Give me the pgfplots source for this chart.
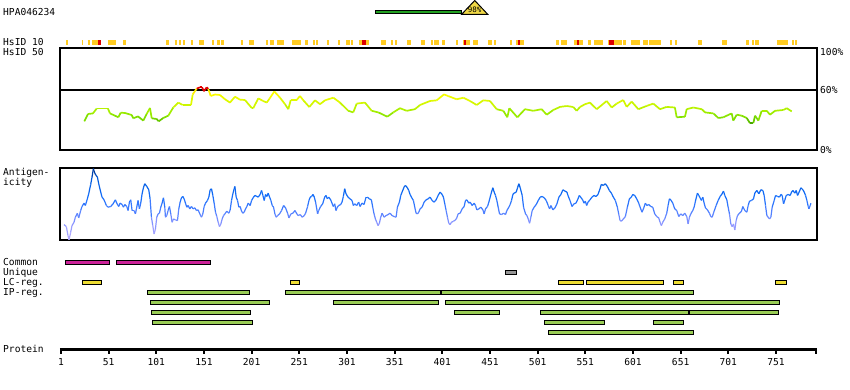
\documentclass[border=0pt]{standalone}
\usepackage{pgfplots}
\pgfplotsset{compat=1.18}
\usepackage{fontspec}
\setmainfont{DejaVu Sans Mono}
\definecolor{common}{RGB}{204,34,153}
\definecolor{lcreg}{RGB}{238,221,51}
\definecolor{ipreg}{RGB}{153,204,85}
\definecolor{uniq}{RGB}{150,150,150}
\definecolor{hsy}{RGB}{255,204,34}
\definecolor{hsr}{RGB}{221,0,0}
\definecolor{topgreen}{RGB}{34,160,34}
\definecolor{tri}{RGB}{240,216,70}
\newcommand{\rbar}[5]{\addplot[draw=black, line width=1bp, fill=#5] coordinates {(#1,#3) (#2,#3) (#2,#4) (#1,#4)} --cycle;}
\begin{document}
\begin{tikzpicture}[font=\fontsize{9.6bp}{11bp}\selectfont]
% ---------------- HsID 50 panel
\begin{axis}[at={(60bp,240bp)}, anchor=south west, scale only axis,
  width=757bp, height=102bp, xmin=0, xmax=794, ymin=0, ymax=102,
  xtick=\empty, ytick=\empty, axis line style={line width=1.2bp},
  colormap={hsid}{rgb255(0pt)=(40,130,0) rgb255(27pt)=(70,165,0) rgb255(32pt)=(125,222,0) rgb255(38pt)=(160,238,0) rgb255(44pt)=(200,245,0) rgb255(50pt)=(225,250,0) rgb255(55pt)=(250,252,0) rgb255(59.5pt)=(255,235,0) rgb255(60.5pt)=(225,0,0) rgb255(100pt)=(225,0,0)},
  point meta min=0, point meta max=100]
\addplot[black, line width=1.2bp] coordinates {(0,60) (794,60)};
\addplot[mesh, point meta=y, line width=1.7bp] coordinates {
(25.5,28.7) (29.4,36) (34.6,36.6) (38.5,41.5) (50.3,41.5) (52.4,36.6) (57.7,34.3) (61.2,32.7) (63.7,37.3) (68.2,37) (75.2,35) (76.9,31.7) (81.8,33.6) (87.4,29.4) (90.9,36) (94.4,42) (96.2,31.7) (101.4,31) (103.5,28.7) (108.3,32) (113.6,34.3) (118.8,42.5) (124.1,47.4) (128.7,45) (137.4,45) (139.2,55.6) (143.4,61.4) (146.8,62.7) (149,62.7) (151,58.8) (153.9,62.7) (155.5,61) (158.1,54) (162.6,55.5) (167.8,55) (173.1,50.7) (178.3,47.4) (183.5,53.3) (188.8,50.3) (194,50) (201.1,42) (202.7,41.8) (208,51.6) (213.2,49) (216.8,47.4) (219.5,51) (224.8,58.5) (230.8,52.3) (236,45.8) (239.5,40.8) (242,50) (248.3,50) (251.7,54)
(255.2,49.7) (261.5,43) (267.5,49.7) (272.7,45.8) (278,49.7) (286.7,52.3) (293.7,47.4) (302.4,39.2) (307.6,37.6) (311.2,46.4) (319.9,47.4) (326.9,39.2) (333.9,37.6) (343.3,33.3) (349.6,37.6) (356.6,41.8) (363.6,39.2) (372.3,40.8) (377.6,45) (388.1,49) (395.1,49.7) (402.8,55.6) (407.3,53.9) (416.1,50.7) (423,52.3) (430,49) (437.1,45) (444,49.7) (451,49) (458,40.8) (465,39.2) (469.2,32.7) (471.3,41.8) (479.7,32.7) (487.7,40.8) (496.4,39.2) (505.2,40.8) (510.5,35.3) (517.4,40)
(524.5,43.1) (531.5,44) (538.4,43) (541.9,39.2) (545.4,43) (550.7,45.8) (555.9,47.4) (562.9,40.8) (573.4,49) (578.7,42.5) (583.9,46.4) (590.8,50) (594.4,43.1) (599.6,48.4) (606.6,40.8) (615.4,44.1) (622.3,46.4) (629.3,40.8) (636.3,43.1) (645,42.5) (646.8,32.7) (655.5,33.3) (657.3,40.8) (664.3,42.5) (673.1,40.8) (676.5,37.6) (685.3,36.6) (690.5,32) (695.7,32.7) (704.5,36.6) (706.2,29.4) (709.8,35.3) (715,34.3) (720.3,32) (723.7,26.8) (727.2,26.8) (729,34.3) (732.5,29.4) (736,39.2) (741.3,39.2) (744.7,35.3) (750,39.2) (758.6,40) (762.2,41.8) (767.5,38.6)};
\end{axis}
% ---------------- Antigenicity panel
\begin{axis}[at={(60bp,150bp)}, anchor=south west, scale only axis,
  width=757bp, height=72bp, xmin=0, xmax=794, ymin=0, ymax=215,
  xtick=\empty, ytick=\empty, axis line style={line width=1.2bp},
  colormap={anti}{rgb255(0pt)=(185,175,255) rgb255(50pt)=(140,150,255) rgb255(90pt)=(70,125,255) rgb255(130pt)=(20,110,250) rgb255(180pt)=(0,90,220) rgb255(215pt)=(0,50,140)},
  point meta min=0, point meta max=215]
\addplot[mesh, point meta=y, line width=1.2bp] coordinates {
(4.2,46) (6.65,40) (8.4,13) (9.45,0) (11.2,23) (12.6,43) (14.7,53) (16.1,68) (18.2,80) (19.6,66) (21.7,88) (23.1,100) (25.2,110) (26.6,103) (28.7,123) (30.1,138) (32.2,166) (33.6,188) (35.0,213) (36.4,200) (37.8,193) (39.2,188) (40.6,168) (42.7,143) (44.1,128) (46.2,120) (48.65,103) (50.4,98) (53.2,100) (55.65,108) (58.1,120) (59.5,110) (61.6,100) (63.0,110) (65.1,106) (66.5,98) (67.9,106) (70.0,100) (71.4,88) (72.8,113) (74.2,120) (75.6,88) (77.7,88) (79.1,78) (80.5,98) (81.9,118) (83.3,93) (84.7,110) (86.1,138) (87.5,156) (88.9,168) (91.0,160) (93.1,150) (94.5,123) (95.9,68) (97.3,43) (98.7,18) (100.1,33) (101.5,68) (102.9,78) (104.3,80) (105.7,98) (107.1,110) (108.5,126) (109.9,98) (110.6,68) (112.0,73) (113.4,88) (114.8,100) (116.2,78) (117.6,53) (119.0,63) (121.1,60) (123.2,58) (124.6,93) (126.0,113) (127.4,126) (128.8,130) (130.2,123) (131.6,110) (133.0,98) (134.4,103) (136.15,93) (137.9,100) (139.65,93) (141.4,96) (143.15,88) (144.9,90) (146.65,78) (148.4,68) (149.8,78) (151.2,100) (152.6,110) (154.7,118) (156.1,128) (157.5,150) (158.9,153) (160.3,133) (161.7,110) (163.1,83) (164.5,70) (165.9,53) (167.3,40) (168.7,48) (170.1,63) (171.5,73) (172.9,78) (175.0,86) (177.1,80) (178.5,90) (179.9,118) (181.3,138) (182.7,153) (183.4,160) (184.8,128) (186.2,118) (187.6,98) (189.0,100) (190.4,86) (191.8,80) (193.2,83) (194.6,93) (196.0,100) (197.4,110) (199.5,103) (200.9,118) (203.0,128) (204.4,133) (206.5,130) (207.9,128) (210.0,136) (211.4,148) (212.8,133) (214.2,118) (215.6,136) (217.0,130) (218.4,140) (219.8,128) (221.2,118) (222.6,103) (224.0,98) (225.4,78) (226.8,68) (228.2,73) (230.3,78) (232.4,88) (234.5,103) (236.6,96) (238.7,80) (240.1,66) (242.2,78) (244.3,80) (246.4,88) (248.5,78) (249.9,73) (252.0,76) (254.1,68) (256.2,73) (257.6,80) (259.7,100) (261.1,118) (262.5,128) (263.9,130) (265.3,136) (266.7,128) (268.1,113) (270.2,78)
(271.3,88) (273.4,100) (275.5,108) (277.6,128) (279.0,133) (280.4,123) (281.8,128) (283.9,120) (285.3,110) (286.7,100) (288.1,108) (289.5,88) (290.9,98) (292.3,103) (294.4,106) (295.8,113) (297.2,130) (298.6,153) (300.0,138) (302.1,128) (304.2,123) (306.3,118) (307.7,103) (309.1,108) (311.2,103) (313.3,113) (314.7,100) (316.8,110) (318.9,106) (321.0,128) (322.4,128) (324.5,123) (326.6,120) (328.0,98) (329.4,78) (330.8,63) (332.2,53) (333.6,43) (335.0,50) (336.4,68) (337.8,80) (339.9,68) (342.0,73) (344.1,76) (346.2,80) (348.3,73) (350.4,70) (352.5,68) (353.9,98) (356.0,113) (357.4,133) (358.8,143) (360.9,158) (362.3,163) (364.4,156) (365.8,148) (367.2,136) (368.6,128) (370.7,118) (372.1,98) (373.5,80) (374.9,78) (376.3,83) (377.7,93) (379.8,98) (381.9,113) (384.0,120) (386.1,123) (388.2,128) (390.3,118) (392.4,113) (394.5,120) (396.6,133) (398.7,143) (400.8,136) (402.2,128) (403.6,108) (405.0,88) (406.4,68) (407.8,50) (409.2,46) (410.6,53) (412.7,56) (414.8,60) (416.2,66) (417.6,78) (419.7,80) (421.8,93) (423.9,100) (425.3,118) (426.7,120) (428.8,110) (430.2,113) (432.3,103) (434.4,110) (435.8,103) (437.2,90) (439.3,93) (441.4,98) (443.5,90) (444.9,78) (446.3,93) (448.4,100) (449.8,113) (451.2,128) (452.6,143) (454.0,156) (455.4,143) (456.8,133) (458.2,118) (459.6,98) (461.0,78) (463.1,76) (465.2,80) (467.3,76) (468.7,88) (470.8,98) (472.2,106) (473.6,118) (475.0,136) (476.4,140) (478.5,143) (479.9,156) (481.3,168) (482.7,156) (484.8,133) (486.2,98) (488.3,78) (489.7,73) (491.1,63) (492.5,50) (493.9,68) (495.3,88) (497.4,98) (499.5,106) (501.6,118) (503.7,128) (505.8,130) (507.9,126) (510.0,118) (512.1,103) (513.5,93) (514.9,103) (517.0,90) (519.1,96) (521.2,108) (523.3,128) (525.4,136) (527.5,150) (529.6,146) (531.7,143)
(532.8,133) (534.9,118) (537.0,100) (539.1,108) (541.2,110) (543.3,123) (544.7,133) (546.1,128) (548.2,120) (549.6,110) (551.0,116) (552.4,103) (553.8,113) (555.9,120) (558.0,128) (560.1,133) (562.2,130) (564.3,136) (566.4,153) (567.8,166) (569.9,163) (572.0,168) (574.1,160) (576.2,148) (578.3,140) (580.4,128) (582.5,118) (584.6,98) (586.0,78) (587.4,58) (588.8,56) (590.9,63) (593.0,70) (595.1,98) (597.2,123) (599.3,128) (600.7,136) (602.8,133) (604.9,123) (607.0,110) (609.1,93) (610.5,83) (612.6,98) (614.0,110) (615.4,103) (617.5,106) (619.6,100) (621.7,98) (623.8,78) (625.9,70) (628.0,66) (629.4,53) (630.8,43) (632.2,53) (634.3,63) (636.4,80) (637.8,103) (639.2,123) (640.6,120) (642.7,110) (644.8,93) (646.9,88) (649.0,70) (651.1,78) (653.2,73) (655.3,80) (657.4,70) (658.8,48) (660.2,68) (661.6,78) (663.7,88) (665.1,98) (666.5,116) (668.6,140) (670.0,133) (671.4,126) (672.8,118) (674.2,128) (675.6,110) (677.0,96) (679.1,90) (681.2,80) (682.6,70) (684.0,68) (686.1,86) (688.2,103) (690.3,118) (692.4,130) (694.5,138) (695.9,146) (697.3,133) (699.4,120) (700.8,98) (702.2,78) (703.6,48) (705.0,40) (706.4,48) (707.8,30) (709.2,58) (710.6,73) (712.7,80) (714.8,86) (716.2,100) (718.3,88) (720.4,83) (721.8,103) (723.2,116) (725.3,118) (727.4,123) (728.8,140) (730.9,148) (733.0,138) (735.1,150) (737.2,148) (738.6,133) (740.0,103) (741.4,73) (742.8,68) (744.2,63) (745.6,68) (747.0,98) (749.1,118) (750.5,133) (752.6,130) (754.7,128) (756.1,136) (757.5,133) (758.9,108) (760.3,120) (761.7,133) (763.8,136) (765.9,133) (767.3,143) (768.7,148) (770.8,140) (772.2,148) (773.6,133) (775.7,146) (777.1,156) (779.2,150) (780.6,143) (782.0,133) (783.4,118) (784.8,100) (785.5,93) (786.9,103) (787.6,110)};
\end{axis}
% ---------------- overlay axis: top strip, feature bars, protein axis
\begin{axis}[at={(60bp,0bp)}, anchor=south west, scale only axis,
  width=757bp, height=390bp, xmin=0, xmax=794, ymin=0, ymax=390,
  hide axis, clip=false]
% HsID 10 strip
\addplot[hsy, line width=4.7bp, unbounded coords=jump] coordinates {
(6.3,347.7) (8.4,347.7) (8.4,nan) (23,347.7) (24.4,347.7) (24.4,nan) (29,347.7) (31,347.7) (31,nan) (33.6,347.7) (39.9,347.7) (39.9,nan) (50.3,347.7) (58.4,347.7) (58.4,nan) (66.4,347.7) (69.2,347.7) (69.2,nan) (111,347.7) (114,347.7) (114,nan) (120.3,347.7) (122.4,347.7) (122.4,nan) (124.8,347.7) (126.6,347.7) (126.6,nan) (129,347.7) (130.8,347.7) (130.8,nan) (137.4,347.7) (139.2,347.7) (139.2,nan) (145.8,347.7) (150.7,347.7) (150.7,nan) (159.4,347.7) (161.2,347.7) (161.2,nan) (164.7,347.7) (168.1,347.7) (168.1,nan) (169.2,347.7) (171.7,347.7) (171.7,nan) (189.8,347.7) (192,347.7) (192,nan) (198.2,347.7) (203.4,347.7) (203.4,nan) (215.7,347.7) (217.9,347.7) (217.9,nan) (220,347.7) (224.5,347.7) (224.5,nan) (227.3,347.7) (235,347.7) (235,nan) (243.3,347.7) (252.8,347.7) (252.8,nan) (257,347.7) (260,347.7) (260,nan) (265.4,347.7) (267.5,347.7) (267.5,nan) (268.5,347.7) (270.6,347.7) (270.6,nan) (280,347.7) (282.1,347.7) (282.1,nan) (291.6,347.7) (293.7,347.7) (293.7,nan) (300,347.7) (304.2,347.7) (304.2,nan) (305.2,347.7) (307.4,347.7) (307.4,nan) (313.6,347.7) (316.7,347.7) (316.7,nan) (321,347.7) (324,347.7) (324,nan) (336.7,347.7) (342,347.7) (342,nan) (347.2,347.7) (349.3,347.7) (349.3,nan) (351.4,347.7) (353.5,347.7) (353.5,nan) (364,347.7) (368,347.7) (368,nan) (378.6,347.7) (382.8,347.7) (382.8,nan) (389,347.7) (391.2,347.7) (391.2,nan) (392.3,347.7) (397.5,347.7) (397.5,nan) (400.7,347.7) (403.8,347.7) (403.8,nan) (415.4,347.7) (417.5,347.7) (417.5,nan) (422.7,347.7) (423.7,347.7) (423.7,nan) (425.8,347.7) (430,347.7) (430,nan) (433.2,347.7) (438.5,347.7) (438.5,nan) (449,347.7) (453,347.7) (453,nan) (455.2,347.7) (457.3,347.7) (457.3,nan) (472,347.7) (474,347.7) (474,nan) (478.3,347.7) (480.4,347.7) (480.4,nan) (482.5,347.7) (486.7,347.7) (486.7,nan) (520.2,347.7) (523.4,347.7) (523.4,nan) (525.5,347.7) (531.8,347.7) (531.8,nan) (539,347.7) (542.3,347.7) (542.3,nan) (544.4,347.7) (548.6,347.7) (548.6,nan) (553.8,347.7) (557,347.7) (557,nan) (560,347.7) (569.5,347.7) (569.5,nan) (574.8,347.7) (575.8,347.7) (575.8,nan) (581,347.7) (589.4,347.7) (589.4,nan) (590.5,347.7) (593.6,347.7) (593.6,nan) (598.9,347.7) (608.4,347.7) (608.4,nan) (611.5,347.7) (616.8,347.7) (616.8,nan) (617.8,347.7) (630.4,347.7) (630.4,nan) (639.7,347.7) (641.8,347.7) (641.8,nan) (645,347.7) (647,347.7) (647,nan) (669.2,347.7) (673.4,347.7) (673.4,nan) (694.4,347.7) (699.6,347.7) (699.6,nan) (719.6,347.7) (722.8,347.7) (722.8,nan) (725.9,347.7) (728,347.7) (728,nan) (729,347.7) (733.3,347.7) (733.3,nan) (752,347.7) (763.7,347.7) (763.7,nan) (768.2,347.7) (770.3,347.7) (770.3,nan) (771.4,347.7) (773.5,347.7)};
\addplot[hsr, line width=4.7bp, unbounded coords=jump] coordinates {
(39.9,347.7) (43,347.7) (43,nan) (316.7,347.7) (321,347.7) (321,nan) (423.7,347.7) (425.8,347.7) (425.8,nan) (480.4,347.7) (482.5,347.7) (482.5,nan) (542.3,347.7) (544.4,347.7) (544.4,nan) (575.8,347.7) (581,347.7)};
% antigen bar and identity triangle
\rbar{331.4}{421.3}{376.2}{379.7}{topgreen}
\addplot[draw=black, line width=1bp, fill=tri] coordinates {(421.3,375.7) (448.6,375.7) (435,389.5)} --cycle;
\node[font=\fontsize{7.5bp}{8bp}\selectfont, inner sep=0pt] at (axis cs:435,380.2) {98\%};
% Common
\rbar{5.6}{51.7}{125.3}{129.3}{common}
\rbar{59}{157.6}{125.3}{129.3}{common}
% Unique
\rbar{467.5}{478.6}{115.7}{119.7}{uniq}
% LC-reg.
\rbar{23.4}{43.3}{105.7}{109.7}{lcreg}
\rbar{241.6}{251}{105.7}{109.7}{lcreg}
\rbar{522.7}{548.9}{105.7}{109.7}{lcreg}
\rbar{552}{632.8}{105.7}{109.7}{lcreg}
\rbar{643.3}{653.8}{105.7}{109.7}{lcreg}
\rbar{750.3}{762.2}{105.7}{109.7}{lcreg}
% IP-reg. rows
\rbar{91.6}{198.6}{95.7}{99.7}{ipreg}
\rbar{237}{398.9}{95.7}{99.7}{ipreg}
\rbar{399.9}{664.3}{95.7}{99.7}{ipreg}
\rbar{95.1}{219.5}{85.7}{89.7}{ipreg}
\rbar{286.7}{396.8}{85.7}{89.7}{ipreg}
\rbar{404.1}{754.5}{85.7}{89.7}{ipreg}
\rbar{95.8}{199.6}{75.7}{79.7}{ipreg}
\rbar{413.6}{460.8}{75.7}{79.7}{ipreg}
\rbar{503.8}{659.4}{75.7}{79.7}{ipreg}
\rbar{660.5}{753.4}{75.7}{79.7}{ipreg}
\rbar{96.8}{201.7}{65.7}{69.7}{ipreg}
\rbar{508}{570.9}{65.7}{69.7}{ipreg}
\rbar{622.3}{653.8}{65.7}{69.7}{ipreg}
\rbar{512.2}{664.3}{55.7}{59.7}{ipreg}
% Protein axis
\addplot[black, line width=3bp] coordinates {(0,40.7) (794,40.7)};
\addplot[black, line width=2bp, unbounded coords=jump] coordinates {
(1,40.7) (1,36) (1,nan) (51,40.7) (51,36) (51,nan) (101,40.7) (101,36) (101,nan) (151,40.7) (151,36) (151,nan) (201,40.7) (201,36) (201,nan) (251,40.7) (251,36) (251,nan) (301,40.7) (301,36) (301,nan) (351,40.7) (351,36) (351,nan) (401,40.7) (401,36) (401,nan) (451,40.7) (451,36) (451,nan) (501,40.7) (501,36) (501,nan) (551,40.7) (551,36) (551,nan) (601,40.7) (601,36) (601,nan) (651,40.7) (651,36) (651,nan) (701,40.7) (701,36) (701,nan) (751,40.7) (751,36) (751,nan) (793.4,40.7) (793.4,36)};
\node[anchor=base, inner sep=0pt] at (axis cs:1,25) {1};
\node[anchor=base, inner sep=0pt] at (axis cs:51,25) {51};
\node[anchor=base, inner sep=0pt] at (axis cs:101,25) {101};
\node[anchor=base, inner sep=0pt] at (axis cs:151,25) {151};
\node[anchor=base, inner sep=0pt] at (axis cs:201,25) {201};
\node[anchor=base, inner sep=0pt] at (axis cs:251,25) {251};
\node[anchor=base, inner sep=0pt] at (axis cs:301,25) {301};
\node[anchor=base, inner sep=0pt] at (axis cs:351,25) {351};
\node[anchor=base, inner sep=0pt] at (axis cs:401,25) {401};
\node[anchor=base, inner sep=0pt] at (axis cs:451,25) {451};
\node[anchor=base, inner sep=0pt] at (axis cs:501,25) {501};
\node[anchor=base, inner sep=0pt] at (axis cs:551,25) {551};
\node[anchor=base, inner sep=0pt] at (axis cs:601,25) {601};
\node[anchor=base, inner sep=0pt] at (axis cs:651,25) {651};
\node[anchor=base, inner sep=0pt] at (axis cs:701,25) {701};
\node[anchor=base, inner sep=0pt] at (axis cs:751,25) {751};
\end{axis}
% ---------------- text labels
\node[anchor=base west, inner sep=0pt] at (3bp,374bp) {HPA046234};
\node[anchor=base west, inner sep=0pt] at (3bp,344bp) {HsID 10};
\node[anchor=base west, inner sep=0pt] at (3bp,334bp) {HsID 50};
\node[anchor=base west, inner sep=0pt] at (3bp,214bp) {Antigen-};
\node[anchor=base west, inner sep=0pt] at (3bp,204bp) {icity};
\node[anchor=base west, inner sep=0pt] at (3bp,124bp) {Common};
\node[anchor=base west, inner sep=0pt] at (3bp,114bp) {Unique};
\node[anchor=base west, inner sep=0pt] at (3bp,104bp) {LC-reg.};
\node[anchor=base west, inner sep=0pt] at (3bp,94bp) {IP-reg.};
\node[anchor=base west, inner sep=0pt] at (3bp,37.3bp) {Protein};
\node[anchor=base west, inner sep=0pt] at (820bp,334.7bp) {100\%};
\node[anchor=base west, inner sep=0pt] at (820bp,296.7bp) {60\%};
\node[anchor=base west, inner sep=0pt] at (820bp,236.7bp) {0\%};
\pgfresetboundingbox
\useasboundingbox (0,0) rectangle (850bp,390bp);
\end{tikzpicture}
\end{document}
